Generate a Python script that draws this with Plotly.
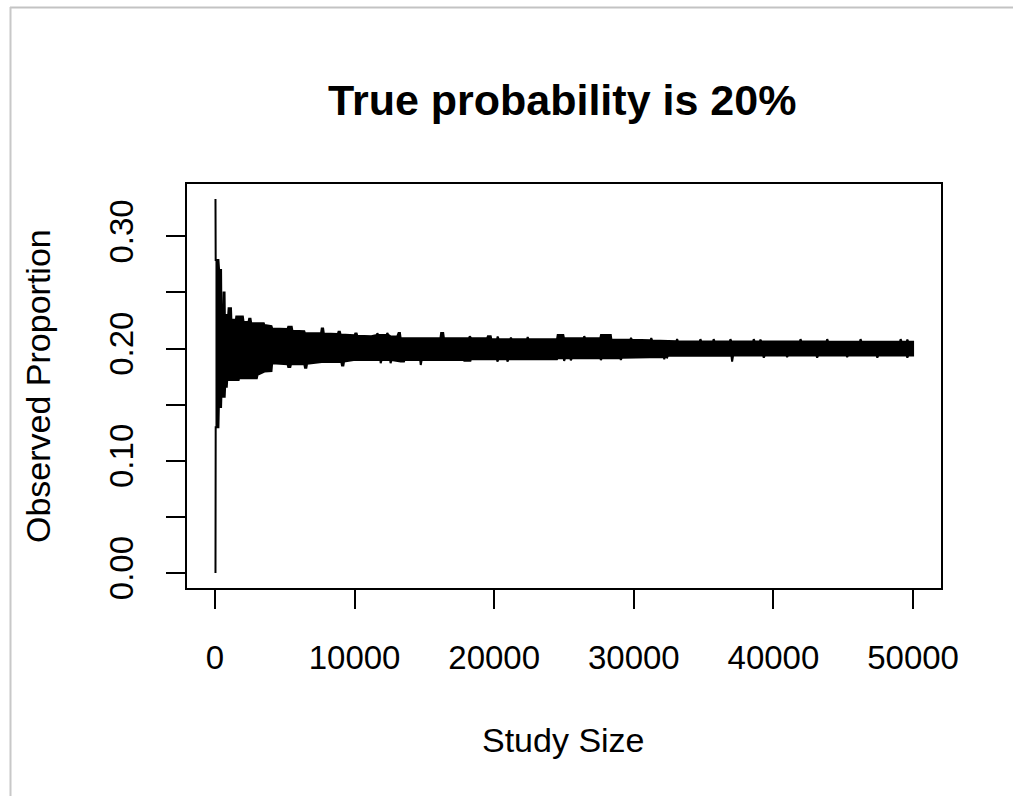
import plotly.graph_objects as go

# ---- data: upper and lower envelope of the observed proportion trace ----
upper_n = [40, 55, 250, 300, 440, 460, 600, 620, 690, 710, 950, 980, 1150, 1180, 1500, 1530,
           2000, 2050, 2400, 2450, 2550, 2600, 3500, 3550, 4050, 4100, 5200, 5250, 5500, 5550,
           6400, 6450, 7600, 7650, 7750, 7800, 8800, 8850, 8950, 9000, 10000, 10050, 10150,
           10200, 11200, 11600, 11630, 11700, 12300, 12345, 12420, 12600, 13050, 13150, 13250,
           13300, 16150, 16200, 16350, 16400, 18200, 18250, 18350, 19500, 19550, 19750, 19800,
           20200, 20250, 20320, 21150, 21200, 21260, 22350, 22400, 22460, 24500, 24550, 24950,
           25000, 26400, 26450, 26520, 27600, 27650, 28350, 28400, 29750, 29800, 29870, 31200,
           31250, 31320, 33050, 33100, 33170, 34720, 34770, 34840, 35670, 35720, 35790,
           36870, 36920, 36990, 38540, 38590, 38660, 39020, 39070, 39140, 41890, 41940, 42010,
           43800, 43850, 43920, 46190, 46240, 46310, 49060, 49110, 49180, 49540, 49590, 49660,
           50000]
upper_p = [0.3333, 0.279, 0.279, 0.270, 0.270, 0.2375, 0.2375, 0.250, 0.250, 0.230, 0.230,
           0.236, 0.236, 0.2256, 0.2256, 0.2286, 0.2286, 0.224, 0.2236, 0.2265, 0.2265, 0.2226,
           0.2226, 0.221, 0.220, 0.218, 0.2175, 0.2195, 0.2195, 0.216, 0.2155, 0.2137, 0.2137,
           0.218, 0.218, 0.2135, 0.213, 0.215, 0.215, 0.2125, 0.212, 0.2135, 0.2135, 0.2115,
           0.211, 0.2122, 0.2138, 0.2122, 0.2122, 0.2138, 0.2122, 0.2107, 0.2107, 0.2138,
           0.2138, 0.2093, 0.2093, 0.2138, 0.2138, 0.2093, 0.2093, 0.211, 0.2093, 0.2093, 0.211,
           0.211, 0.2084, 0.2084, 0.2107, 0.2084, 0.2084, 0.2098, 0.2084, 0.2084, 0.2102, 0.2084,
           0.2084, 0.2122, 0.2122, 0.2093, 0.2093, 0.211, 0.2093, 0.2093, 0.2122, 0.2122, 0.2078,
           0.2078, 0.2095, 0.2078, 0.2074, 0.2093, 0.2072, 0.2065, 0.2084, 0.2063,
           0.2063, 0.2084, 0.2063, 0.2063, 0.2084, 0.2063, 0.2063, 0.2084, 0.2063, 0.2063,
           0.2084, 0.2063, 0.2063, 0.208, 0.2063, 0.2063, 0.2084, 0.2063, 0.2063, 0.2084, 0.2063,
           0.206, 0.2084, 0.206, 0.206, 0.2084, 0.206, 0.206, 0.208, 0.206, 0.206]

lower_n = [40, 55, 250, 280, 440, 460, 700, 730, 850, 880, 1700, 1730, 3000, 3050, 3550, 4050,
           4100, 5200, 5250, 5400, 5450, 6400, 6450, 6550, 6600, 7650, 9050, 9100, 9200, 9250,
           10050, 11100, 11850, 11870, 11940, 12550, 12580, 12650, 13300, 13540, 13580, 14700,
           14740, 14810, 17800, 17850, 18300, 18330, 20200, 20230, 20300, 20920, 20950, 21020,
           24500, 24550, 24980, 25010, 25080, 25460, 25490, 25560, 27610, 27640, 27710, 29040,
           29070, 29140, 32150, 32180, 32250, 32380, 32450, 36990, 37040, 37110, 39260, 39310,
           39380, 40930, 40980, 41050, 43080, 43130, 43200, 45230, 45280, 45350, 47390, 47440,
           47510, 49540, 49590, 49660, 50000]
lower_p = [0.0, 0.130, 0.130, 0.148, 0.148, 0.157, 0.157, 0.166, 0.166, 0.172, 0.172, 0.1735,
           0.1735, 0.1765, 0.1795, 0.180, 0.187, 0.186, 0.1835, 0.1835, 0.186, 0.186, 0.183,
           0.183, 0.1865, 0.188, 0.188, 0.185, 0.185, 0.1885, 0.190, 0.1899, 0.1899, 0.187,
           0.1899, 0.1899, 0.187, 0.1899, 0.1884, 0.1884, 0.1899, 0.1899, 0.1854, 0.1899,
           0.1899, 0.1892, 0.1892, 0.1905, 0.1905, 0.1884, 0.1905, 0.1905, 0.1884, 0.1905,
           0.1905, 0.1914, 0.1914, 0.189, 0.1914, 0.1914, 0.1895, 0.1914, 0.1914, 0.1899, 0.1914,
           0.1914, 0.1899, 0.1918, 0.1926, 0.1905, 0.193, 0.192, 0.1936, 0.1938, 0.1884, 0.1938,
           0.1938, 0.192, 0.1938, 0.1938, 0.1925, 0.1938, 0.1938, 0.192, 0.1938, 0.1938, 0.1925,
           0.1938, 0.1938, 0.192, 0.1938, 0.1938, 0.192, 0.1938, 0.1938]

x_ticks = [0, 10000, 20000, 30000, 40000, 50000]
x_ticktext = ["0", "10000", "20000", "30000", "40000", "50000"]
y_ticks = [0.00, 0.05, 0.10, 0.15, 0.20, 0.25, 0.30]
y_ticktext = ["0.00", "", "0.10", "", "0.20", "", "0.30"]

title_text = "True probability is 20%"
x_title = "Study Size"
y_title = "Observed Proportion"

FONT = "Liberation Sans, Arial, sans-serif"

# plot-area geometry in pixels
W, H = 1013, 796
L, R, T, B = 187, 941, 184, 588
pw, ph = R - L, B - T


def px_x(px):
    return (px - L) / pw


def px_y(py):
    return (B - py) / ph


fig = go.Figure()

band_x = upper_n + lower_n[::-1]
band_y = upper_p + lower_p[::-1]
fig.add_trace(go.Scatter(
    x=band_x, y=band_y, mode="lines", fill="toself",
    fillcolor="black", line=dict(color="black", width=2),
    hoverinfo="skip", showlegend=False,
))

axis_common = dict(
    showgrid=False, zeroline=False, showline=True, linecolor="black", linewidth=2,
    mirror=True, ticks="outside", ticklen=19, tickwidth=2, tickcolor="black",
    tickfont=dict(family=FONT, size=33, color="black"),
)

fig.update_xaxes(range=[-2000, 52000], tickmode="array", tickvals=x_ticks,
                 ticktext=x_ticktext, ticklabelstandoff=20, **axis_common)
fig.update_yaxes(range=[-0.01333, 0.34667], tickmode="array", tickvals=y_ticks,
                 ticktext=y_ticktext, tickangle=-90, ticklabelstandoff=20, **axis_common)

annotations = [
    dict(text=title_text, x=px_x(562), y=px_y(100), xref="paper", yref="paper",
         showarrow=False, xanchor="center", yanchor="middle",
         font=dict(family=FONT, size=43, color="black", weight="bold")),
    dict(text=x_title, x=px_x(563), y=px_y(740), xref="paper", yref="paper",
         showarrow=False, xanchor="center", yanchor="middle",
         font=dict(family=FONT, size=34, color="black")),
    dict(text=y_title, x=px_x(38), y=px_y(386), xref="paper", yref="paper",
         showarrow=False, xanchor="center", yanchor="middle", textangle=-90,
         font=dict(family=FONT, size=34, color="black")),
]

shapes = [
    dict(type="line", xref="paper", yref="paper", x0=px_x(10), y0=px_y(7.5),
         x1=px_x(W + 5), y1=px_y(7.5), line=dict(color="#c3c3c3", width=2)),
    dict(type="line", xref="paper", yref="paper", x0=px_x(10.5), y0=px_y(7),
         x1=px_x(10.5), y1=px_y(H + 5), line=dict(color="#c8c8c8", width=2)),
]

fig.update_layout(
    width=W, height=H,
    margin=dict(l=L, r=W - R, t=T, b=H - B, pad=0),
    paper_bgcolor="white", plot_bgcolor="white",
    annotations=annotations, shapes=shapes,
    showlegend=False,
)

fig.write_html("out.html")
